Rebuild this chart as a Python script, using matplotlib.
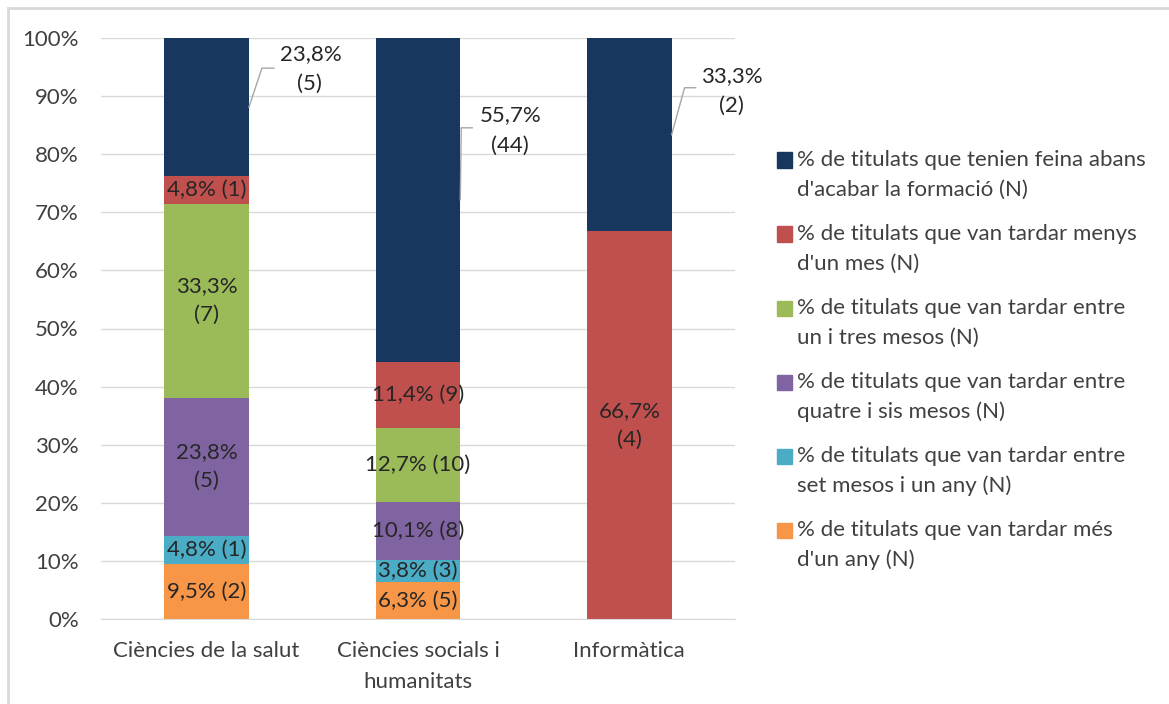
import numpy as np
import matplotlib.pyplot as plt
from matplotlib.patches import Rectangle
from matplotlib.lines import Line2D
from matplotlib.transforms import IdentityTransform

plt.rcParams['font.family'] = ['Lato', 'DejaVu Sans']

W, H = 1169, 704

categories = ["Ciències de la salut", "Ciències socials i\nhumanitats", "Informàtica"]

# stack order, bottom -> top
pct_mes_any = [9.5, 6.3, 0]
n_mes_any = [2, 5, 0]
pct_set_any = [4.8, 3.8, 0]
n_set_any = [1, 3, 0]
pct_quatre_sis = [23.8, 10.1, 0]
n_quatre_sis = [5, 8, 0]
pct_un_tres = [33.3, 12.7, 0]
n_un_tres = [7, 10, 0]
pct_menys_mes = [4.8, 11.4, 66.7]
n_menys_mes = [1, 9, 4]
pct_feina = [23.8, 55.7, 33.3]
n_feina = [5, 44, 2]

labels = [
    "% de titulats que van tardar més\nd'un any (N)",
    "% de titulats que van tardar entre\nset mesos i un any (N)",
    "% de titulats que van tardar entre\nquatre i sis mesos (N)",
    "% de titulats que van tardar entre\nun i tres mesos (N)",
    "% de titulats que van tardar menys\nd'un mes (N)",
    "% de titulats que tenien feina abans\nd'acabar la formació (N)",
]
colors = ["#F79646", "#4BACC6", "#8064A2", "#9BBB59", "#C0504D", "#17375E"]

series_pct = [pct_mes_any, pct_set_any, pct_quatre_sis, pct_un_tres, pct_menys_mes, pct_feina]
series_n = [n_mes_any, n_set_any, n_quatre_sis, n_un_tres, n_menys_mes, n_feina]

FS = 16
TXT = "#404040"


def fmt(p):
    return ("%.1f%%" % p).replace(".", ",")


fig = plt.figure(figsize=(W / 100, H / 100), dpi=100)
ax = fig.add_axes([101 / W, 1 - 619 / H, 634 / W, 581 / H])
ax.set_xlim(-0.5, 2.5)
ax.set_ylim(0, 100)

x = np.arange(len(categories))
bw = 0.4
bottom = np.zeros(len(categories))
for k in range(len(series_pct)):
    pct = np.array(series_pct[k])
    ax.bar(x, pct, bw, bottom=bottom, color=colors[k], zorder=2)
    if k < len(series_pct) - 1:
        for i in range(len(categories)):
            if pct[i] == 0:
                continue
            if pct[i] > 20:
                s = fmt(pct[i]) + "\n(%d)" % series_n[k][i]
            else:
                s = fmt(pct[i]) + " (%d)" % series_n[k][i]
            ax.text(x[i], bottom[i] + pct[i] / 2, s, ha="center", va="center",
                    fontsize=FS, color="#262626", linespacing=1.55, zorder=3)
    bottom += pct

# top segment labels outside with leader lines (offsets in pixels, y down)
leaders = [
    [(0, 0), (13, -39), (25, -39)],
    [(0, 0), (1, -72), (12, -72)],
    [(0, 0), (13, -47), (24, -47)],
]
text_off = [
    [(62, -53), (61, -23)],
    [(50, -85), (50, -54)],
    [(60, -59), (60, -29)],
]
top = len(series_pct) - 1
for i in range(len(categories)):
    yc = bottom[i] - series_pct[top][i] / 2
    ax0, ay0 = ax.transData.transform((x[i] + bw / 2, yc))
    xs = [ax0 + p[0] for p in leaders[i]]
    ys = [ay0 - p[1] for p in leaders[i]]
    fig.add_artist(Line2D(xs, ys, transform=IdentityTransform(), color="#A6A6A6", lw=1))
    parts = [fmt(series_pct[top][i]), "(%d)" % series_n[top][i]]
    for s, (dx, dy) in zip(parts, text_off[i]):
        ax.annotate(s, xy=(x[i] + bw / 2, yc), xytext=(dx, -dy), textcoords="offset pixels",
                    ha="center", va="center", fontsize=FS, color="#262626")

ax.set_yticks(range(0, 101, 10))
ax.set_yticklabels(["%d%%" % v for v in range(0, 101, 10)])
ax.set_xticks(x)
ax.set_xticklabels(categories, linespacing=1.7)
ax.tick_params(axis="y", length=0, pad=16, labelsize=FS, colors=TXT)
ax.tick_params(axis="x", length=0, pad=16, labelsize=FS, colors=TXT)
ax.yaxis.grid(True, color="#D9D9D9", lw=1)
ax.set_axisbelow(True)
for sp in ["left", "right", "top"]:
    ax.spines[sp].set_visible(False)
ax.spines["bottom"].set_color("#D9D9D9")

# legend, top series first
for j, k in enumerate(range(len(labels) - 1, -1, -1)):
    yc = 160 + 74 * j
    fig.add_artist(Rectangle((777 / W, 1 - (yc + 7.5) / H), 15 / W, 15 / H,
                             transform=fig.transFigure, color=colors[k]))
    for m, line in enumerate(labels[k].split("\n")):
        fig.text(797 / W, 1 - (yc + 30 * m) / H, line, ha="left", va="center",
                 fontsize=FS, color=TXT)

fig.add_artist(Rectangle((8 / W, -0.1), 1.2, 1 - 8 / H + 0.1, transform=fig.transFigure,
                         fill=False, ec="#D9D9D9", lw=2))

fig.savefig("out.png", dpi=100)
